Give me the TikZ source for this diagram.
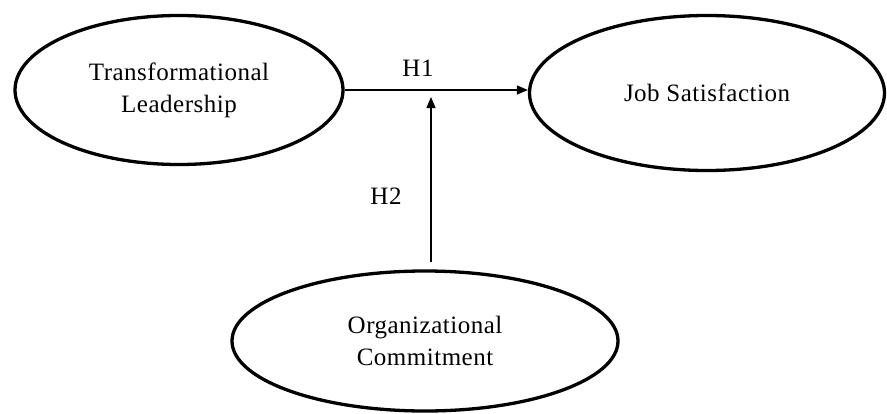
\documentclass[tikz,border=0pt]{standalone}
\usepackage{fontspec}
\setmainfont[LetterSpace=2]{Liberation Serif}
\usetikzlibrary{shapes.geometric,arrows.meta}
\begin{document}
\begin{tikzpicture}[x=1pt,y=-1pt,
  construct/.style={ellipse,draw=black,line width=3.3pt,inner sep=0pt,align=center,
    font=\fontsize{25}{32}\selectfont},
  link/.style={line width=1.4pt,-{Triangle[length=11pt,width=9pt]}},
  hyp/.style={font=\fontsize{25}{28}\selectfont,inner sep=0pt}]
\useasboundingbox (0,0) rectangle (887,413);
\node[construct,minimum width=328pt,minimum height=149pt] (tl) at (179,90) {Transformational\\Leadership};
\node[construct,minimum width=355pt,minimum height=155pt] (js) at (707,93) {Job Satisfaction};
\node[construct,minimum width=386pt,minimum height=140pt] (oc) at (425,341) {Organizational\\Commitment};
\draw[link] (tl.east) -- (tl.east -| js.west);
\coordinate (h2bot) at (431,262);
\coordinate (h2top) at (431,97);
\draw[link] (h2bot) -- (h2top);
\node[hyp] (h1) at (418,68) {H1};
\node[hyp] (h2) at (386,196) {H2};
\end{tikzpicture}
\end{document}
